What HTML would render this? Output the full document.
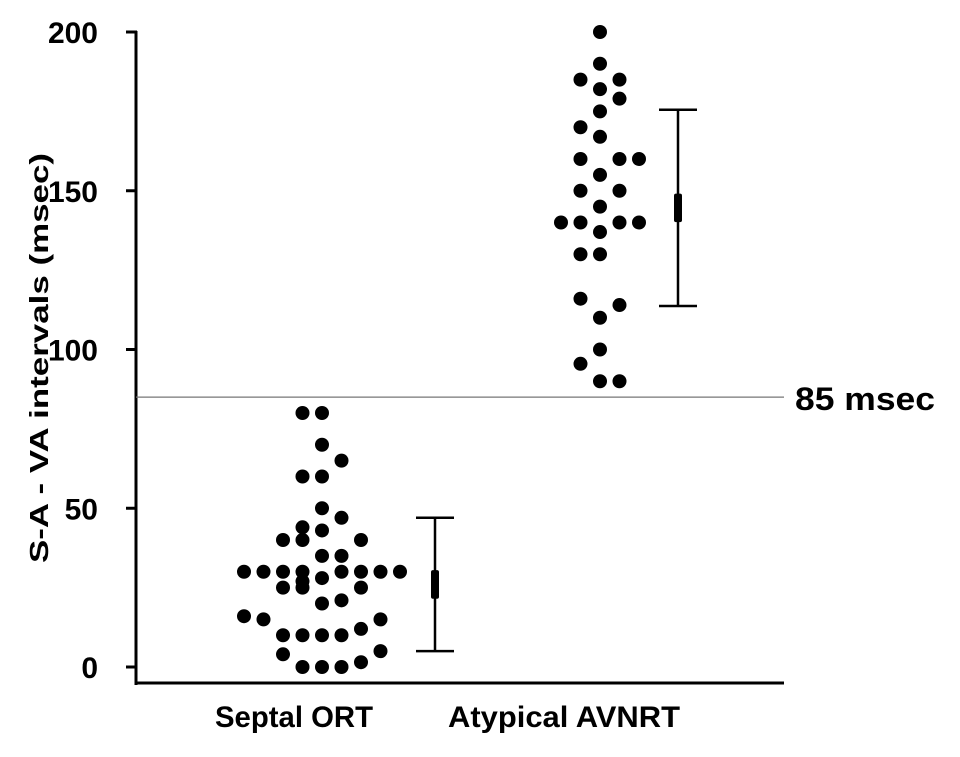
<!DOCTYPE html>
<html><head><meta charset="utf-8"><style>
html,body{margin:0;padding:0;background:#fff;}
svg text{font-family:"Liberation Sans",Arial,sans-serif;font-weight:bold;fill:#000;}
</style></head><body>
<svg id="chart" width="960" height="752" viewBox="0 0 960 752" xmlns="http://www.w3.org/2000/svg">
<g id="axes"></g>
<g id="marks"></g>
</svg>
<script>
const categories = ["Septal ORT", "Atypical AVNRT"];
const yTicks = [0, 50, 100, 150, 200];
const septalValues = [80,80,70,65,60,60,50,47,44,43,40,40,40,35,35,30,30,30,30,30,30,30,30,27,28,25,25,25,20,21,16,15,15,10,10,10,10,12,4,5,0,0,0,1.5];
const septalCols   = [-1,0,0,1,-1,0,0,1,-1,0,-2,-1,2,0,1,-4,-3,-2,-1,1,2,3,4,-1,0,-2,-1,2,0,1,-4,-3,3,-2,-1,0,1,2,-2,3,-1,0,1,2];
const avnrtValues = [200,190,185,185,182,179,175,170,167,160,160,160,155,150,150,145,140,140,140,140,137,130,130,116,114,110,100,95.5,90,90];
const avnrtCols   = [0,0,-1,1,0,1,0,-1,0,-1,1,2,0,-1,1,0,-2,-1,1,2,0,-1,0,-1,1,0,0,-1,0,1];
const means = [26, 144.6];
const sds = [21, 30.9];
const thresholdValue = 85;

const NS = "http://www.w3.org/2000/svg";
const axes = document.getElementById('axes');
const marks = document.getElementById('marks');
const Y0 = 667, PXU = 3.175;
function y(v){ return Y0 - v * PXU; }
const groupCenters = [322, 600];
const colStep = 19.5;
function x(g, c){ return groupCenters[g] + c * colStep; }
function mk(tag, attrs, parent){ const e = document.createElementNS(NS, tag); for (const k in attrs) e.setAttribute(k, attrs[k]); parent.appendChild(e); return e; }

let el = mk('line', {x1:136, y1:31, x2:136, y2:685, stroke:'#000','stroke-width':3}, axes);


el = mk('line', {x1:135, y1:683, x2:784, y2:683, stroke:'#000','stroke-width':3}, axes);



yTicks.forEach(t => {
  const tk = mk('line', {x1:126, y1:y(t), x2:137, y2:y(t), stroke:'#000','stroke-width':3}, axes);
  
  
  const lb = mk('text', {x:98, y:y(t)+11, 'text-anchor':'end', 'font-size':30}, axes);
  lb.textContent = t;
  
  
});

const yt = mk('text', {x:0, y:0, 'text-anchor':'middle', 'font-size':26, textLength:410, lengthAdjust:'spacingAndGlyphs', transform:'translate(48,358) rotate(-90)'}, axes);
yt.textContent = 'S-A - VA intervals (msec)';



const catX = [294, 564];
const catW = [158, 232];
categories.forEach((c, i) => {
  const t = mk('text', {x:catX[i], y:727, 'text-anchor':'middle', 'font-size':30, textLength:catW[i], lengthAdjust:'spacingAndGlyphs'}, axes);
  t.textContent = c;
  
  
});

const th = mk('line', {x1:136, y1:y(thresholdValue), x2:784, y2:y(thresholdValue), stroke:'#777','stroke-width':1.2}, marks);


const thl = mk('text', {x:795, y:y(thresholdValue)+13, 'font-size':32, textLength:140, lengthAdjust:'spacingAndGlyphs'}, marks);
thl.textContent = thresholdValue + ' msec';



function drawDots(vals, cols, g){
  vals.forEach((v, i) => {
    const d = mk('circle', {cx:x(g, cols[i]), cy:y(v), r:7, fill:'#000'}, marks);
    
    
  });
}
drawDots(septalValues, septalCols, 0);
drawDots(avnrtValues, avnrtCols, 1);

const barX = [435, 678];
means.forEach((m, i) => {
  const bx = barX[i];
  const g = mk('g', {}, marks);
  
  
  mk('line', {x1:bx, y1:y(m+sds[i]), x2:bx, y2:y(m-sds[i]), stroke:'#000','stroke-width':2.5}, g);
  mk('line', {x1:bx-19, y1:y(m+sds[i]), x2:bx+19, y2:y(m+sds[i]), stroke:'#000','stroke-width':2.5}, g);
  mk('line', {x1:bx-19, y1:y(m-sds[i]), x2:bx+19, y2:y(m-sds[i]), stroke:'#000','stroke-width':2.5}, g);
  mk('rect', {x:bx-4, y:y(m+4.5), width:8, height:9*PXU, rx:2, fill:'#000'}, g);
});
</script>
</body></html>
